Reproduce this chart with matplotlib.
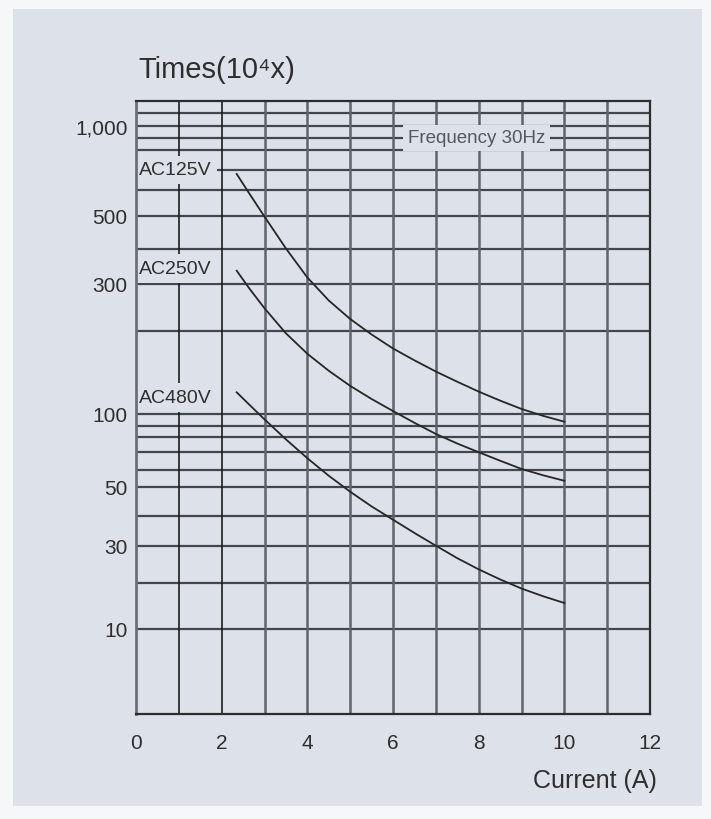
import numpy as np
import matplotlib
matplotlib.use("Agg")
import matplotlib.pyplot as plt
from matplotlib.patches import Rectangle

# operating life (x10^4 operations) vs. load current
current = [2.35, 2.65, 3, 3.5, 4, 4.5, 5, 5.5, 6, 6.5, 7, 7.5, 8, 8.5, 9, 9.5, 10]
life_ac125 = [679, 584, 498, 401.5, 316.5, 260, 221.4, 193.8, 172.5, 156.3, 142.4,
              130.8, 120.5, 111.8, 104.3, 98.4, 93.3]
life_ac250 = [334.7, 288, 243, 195.7, 165.1, 143.3, 126.4, 113.3, 102.5, 92.4, 82.6,
              75.4, 69.7, 64.8, 60.4, 56.6, 53.4]
life_ac480 = [119.8, 107.9, 95.3, 78.3, 66.2, 56.3, 48.2, 43.0, 38.5, 33.9, 30.0,
              26.2, 23.2, 20.8, 18.4, 16.4, 14.8]
curve_names = ["AC125V", "AC250V", "AC480V"]
label_at = [700, 340, 115]

y_ticks = [1000, 500, 300, 100, 50, 30, 10]
y_tick_labels = ["1,000", "500", "300", "100", "50", "30", "10"]
x_ticks = [0, 2, 4, 6, 8, 10, 12]

# horizontal rules of the printed chart; its log axis is hand drawn, so the
# spacing between rules is uneven (second list = rule height above the x axis)
rule_values = [1200, 1100, 1000, 900, 800, 700, 600, 500, 400, 300, 200,
               100, 90, 80, 70, 60, 50, 40, 30, 20, 10, 2]
rule_heights = [613.3, 601, 588, 576, 564, 544, 524, 498, 465, 430, 383.3,
                300, 288.3, 277, 262.3, 244.3, 227, 198.3, 168.3, 131, 85, 0]

BG = "#dde2ea"
INK = "#2e2e2e"

log_r = np.log10(rule_values)[::-1]
h_r = np.array(rule_heights)[::-1]


def forward(v):
    v = np.clip(np.asarray(v, dtype=float), 1e-3, None)
    return np.interp(np.log10(v), log_r, h_r)


def inverse(h):
    return 10 ** np.interp(np.asarray(h, dtype=float), h_r, log_r)


plt.rcParams["font.family"] = ["Liberation Sans", "DejaVu Sans"]

fig = plt.figure(figsize=(7.11, 8.2), dpi=100, facecolor="#f6f7f9")
fig.patches.append(Rectangle((13 / 711, 13 / 820), 689 / 711, 797 / 820,
                             transform=fig.transFigure, facecolor=BG,
                             edgecolor="none", zorder=-5))

ax = fig.add_axes([136 / 711, 105 / 820, 514 / 711, 613.3 / 820])
ax.set_facecolor(BG)
ax.set_yscale("function", functions=(forward, inverse))
ax.set_xlim(0, 12)
ax.set_ylim(2, 1200)

# grid
ax.hlines(rule_values[1:-1], 0, 12, colors="#43474d", linewidth=1.6, zorder=1)
for x in range(1, 12):
    if x <= 2:
        ax.axvline(x, color="#1c1c1c", linewidth=1.2, zorder=1)
    else:
        ax.axvline(x, color="#5f636a", linewidth=1.8, zorder=1)

# curves
for life in (life_ac125, life_ac250, life_ac480):
    ax.plot(current, life, color="#262626", linewidth=1.3, zorder=2)

for name, y in zip(curve_names, label_at):
    ax.text(0.07, y, name, fontsize=14, color=INK, ha="left", va="center",
            zorder=3, bbox=dict(boxstyle="square,pad=0.3", facecolor=BG,
                                edgecolor="none"))

ax.text(7.95, 900, "Frequency 30Hz", fontsize=13.5, color="#55585c",
        ha="center", va="center", zorder=3,
        bbox=dict(boxstyle="square,pad=0.25", facecolor=BG, edgecolor="none"))

ax.set_yticks(y_ticks)
ax.set_yticklabels(y_tick_labels)
ax.yaxis.set_minor_locator(matplotlib.ticker.NullLocator())
ax.set_xticks(x_ticks)
ax.tick_params(axis="y", length=0, pad=6, labelsize=15, labelcolor=INK)
ax.tick_params(axis="x", length=0, pad=14, labelsize=15, labelcolor=INK)

for side, sp in ax.spines.items():
    sp.set_zorder(5)
    if side == "left":
        sp.set_color("#6c7076")
        sp.set_linewidth(2)
    else:
        sp.set_color("#2d2d2d")
        sp.set_linewidth(1.6)

fig.text(138 / 711, 742 / 820, "Times(10\u2074x)", fontsize=21, color=INK,
         ha="left", va="baseline")
fig.text(657 / 711, 32 / 820, "Current (A)", fontsize=18, color=INK,
         ha="right", va="baseline")

fig.savefig("out.png", dpi=100, facecolor=fig.get_facecolor())
